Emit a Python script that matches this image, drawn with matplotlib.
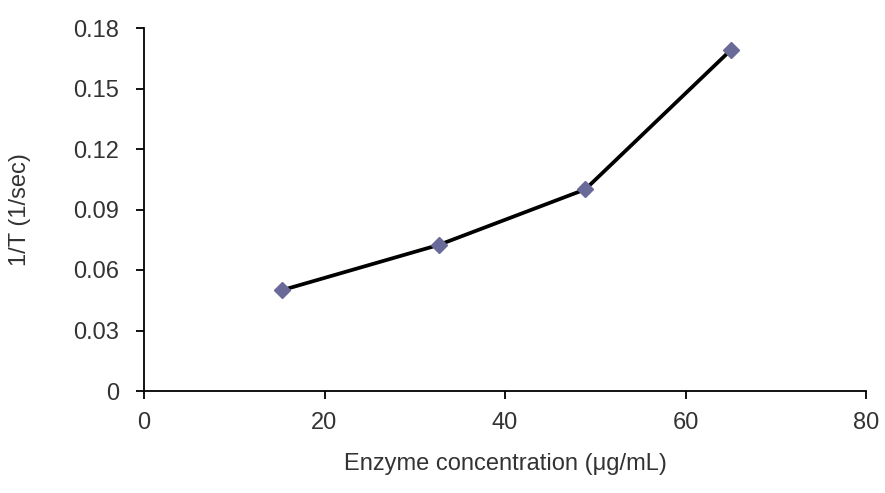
import matplotlib
matplotlib.use("Agg")
import matplotlib.pyplot as plt

enzyme_conc = [15.3, 32.7, 48.9, 65.0]
inv_time = [0.050, 0.0725, 0.100, 0.169]
x_ticks = [0, 20, 40, 60, 80]
y_ticks = [0, 0.03, 0.06, 0.09, 0.12, 0.15, 0.18]
y_tick_labels = ["0", "0.03", "0.06", "0.09", "0.12", "0.15", "0.18"]

plt.rcParams['font.family'] = ['Liberation Sans', 'DejaVu Sans']

fig = plt.figure(figsize=(8.85, 4.93), dpi=100)
ax = fig.add_axes([144/885, 1 - 391/493, (866 - 144)/885, (391 - 28)/493])

ax.plot(enzyme_conc, inv_time, color='black', lw=2.7, zorder=2)
ax.plot(enzyme_conc, inv_time, linestyle='none', marker='D', markersize=8,
        color='#6a6a98', zorder=3)

ax.set_xlim(0, 80)
ax.set_ylim(0, 0.18)
ax.set_xticks(x_ticks)
ax.set_yticks(y_ticks)
ax.set_yticklabels(y_tick_labels)

for s in ['top', 'right']:
    ax.spines[s].set_visible(False)
for s in ['left', 'bottom']:
    ax.spines[s].set_linewidth(1.3)
    ax.spines[s].set_color('black')

ax.tick_params(axis='both', direction='out', length=6, width=1.3,
               labelsize=17, colors='black', labelcolor='#333333')
ax.tick_params(axis='x', pad=9)
ax.tick_params(axis='y', pad=12)

ax.set_xlabel('Enzyme concentration (μg/mL)', fontsize=17, color='#333333', labelpad=14)
ax.set_ylabel('1/T (1/sec)', fontsize=17, color='#333333', labelpad=30)

fig.savefig('out.png', dpi=100)
